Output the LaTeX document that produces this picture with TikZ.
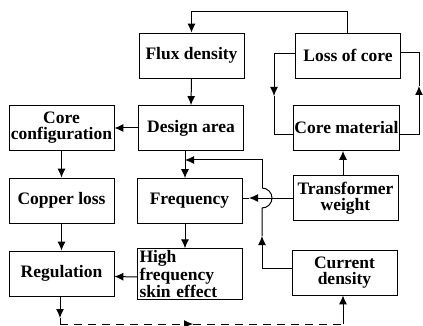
\documentclass[tikz,border=0pt]{standalone}
\usepackage{fontspec}
\setmainfont{Liberation Serif}
\usetikzlibrary{arrows.meta}
\tikzset{
  block/.style={draw, line width=0.8pt, minimum width=105pt, minimum height=45pt,
    inner sep=1pt, align=center, font=\fontsize{17.5}{16}\selectfont\bfseries},
  link/.style={line width=1pt},
  >={Latex[length=9pt,width=8pt]}
}
\begin{document}
\begin{tikzpicture}[x=1pt,y=-1pt]
  \useasboundingbox (0,0) rectangle (423,326);
  \node[block] (flux) at (191.5,55.5) {Flux density};
  \node[block] (loss) at (348,55.5) {Loss of core};
  \node[block] (config) at (61.5,128) {Core\\configuration};
  \node[block] (design) at (191,128) {Design area};
  \node[block] (material) at (346.5,128) {Core material};
  \node[block] (copper) at (61.5,200.5) {Copper loss};
  \node[block] (freq) at (189.5,201) {Frequency};
  \node[block] (weight) at (345.5,198) {Transformer\\weight};
  \node[block] (regulation) at (61.5,273.5) {Regulation};
  \node[block, align=left, text width=101pt, inner sep=2pt,
    font=\fontsize{17.5}{13}\selectfont\bfseries] (skin) at (190,274)
    {High\\frequency\\skin effect};
  \node[block] (current) at (344.5,272.5) {Current\\density};

  \coordinate (lossup) at (347,12);
  \coordinate (leftmid) at (274,96);
  \coordinate (rightmid) at (419,86);
  \coordinate (freqin) at (185,160);
  \coordinate (hoplow) at (262,208);
  \coordinate (hophigh) at (262,188);
  \coordinate (curmid) at (262,236);
  \coordinate (weightmid) at (249,198);
  \coordinate (regmid) at (60,318);
  \coordinate (regdown) at (60,324);
  \coordinate (dashmid) at (193,324);
  \coordinate (dashend) at (343,324);

  \begin{scope}[link]
    \draw[->] (loss.north -| lossup) -- (lossup) -| (flux.north);
    \draw[->] ([yshift=2pt]loss.west) -| (leftmid);
    \draw (leftmid) |- ([yshift=-7pt]material.west);
    \draw[->] ([yshift=-7pt]material.east) -| (rightmid);
    \draw (rightmid) |- ([yshift=3pt]loss.east);
    \draw[->] (flux.south) -- (design.north);
    \draw[->] (design.west) -- (config.east);
    \draw[->] (config.south) -- (copper.north);
    \draw[->] (design.south -| freqin) -- (freq.north -| freqin);
    \draw[->] (weight.north -| dashend) -- (material.south -| dashend);
    \draw[->] ([yshift=4pt]current.west) -| (curmid);
    \draw (curmid) -- (hoplow) arc[start angle=90, end angle=-90, radius=10];
    \draw[->] (hophigh) |- (freqin);
    \draw[->] (weight.west) -- (weightmid);
    \draw (weightmid) -- (weightmid -| freq.east);
    \draw[->] (freq.south -| freqin) -- (skin.north -| freqin);
    \draw[->] (copper.south) -- (regulation.north);
    \draw[->] ([yshift=-3pt]skin.west) -- ([yshift=-3pt]regulation.east);
    \draw[->] (regulation.south -| regmid) -- (regmid);
    \draw (regmid) -- (regdown);
    \draw[->, dashed, dash pattern=on 8pt off 6pt] (regdown) -- (dashmid);
    \draw[dashed, dash pattern=on 8pt off 6pt] (dashmid) -- (dashend);
    \draw[->] (dashend) -- (current.south -| dashend);
  \end{scope}
\end{tikzpicture}
\end{document}
